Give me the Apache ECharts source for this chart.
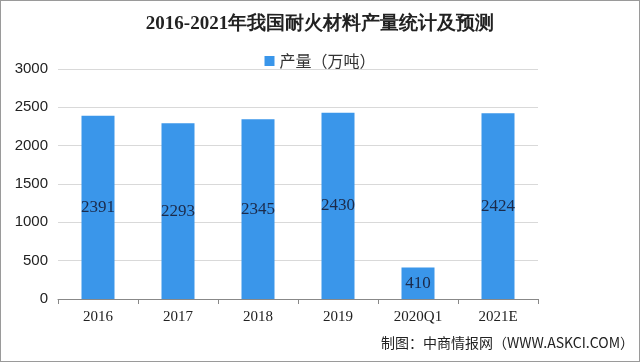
<!DOCTYPE html>
<html><head><meta charset="utf-8">
<script src="https://cdn.jsdelivr.net/npm/echarts@6/dist/echarts.min.js"></script>
<style>
html,body{margin:0;padding:0;background:#fff;}
#c{width:638px;height:360px;border:1px solid #9a9a9a;}
</style></head>
<body><div id="c"></div>
<script>
const title = '2016-2021年我国耐火材料产量统计及预测';
const seriesName = '产量（万吨）';
const categories = ['2016','2017','2018','2019','2020Q1','2021E'];
const values = [2391, 2293, 2345, 2430, 410, 2424];
const yTicks = [0, 500, 1000, 1500, 2000, 2500, 3000];
const source = '制图：中商情报网（WWW.ASKCI.COM）';

const chart = echarts.init(document.getElementById('c'));
chart.setOption({
  animation: false,
  title: {
    text: title, left: 'center', top: 9,
    textStyle: {fontFamily: 'Liberation Serif, serif', fontSize: 19, fontWeight: 'bold', color: '#222'}
  },
  legend: {
    data: [seriesName], top: 47, left: 'center',
    itemWidth: 10, itemHeight: 10, itemGap: 3, icon: 'rect',
    textStyle: {fontFamily: 'Noto Sans CJK SC, sans-serif', fontSize: 16, color: '#333'}
  },
  grid: {left: 57, right: 101, top: 68, bottom: 62},
  xAxis: {
    type: 'category', data: categories,
    axisLine: {lineStyle: {color: '#888'}},
    axisTick: {show: true, length: 5, lineStyle: {color: '#888'}},
    axisLabel: {fontFamily: 'Liberation Serif, serif', fontSize: 15, color: '#222', margin: 11}
  },
  yAxis: {
    type: 'value', min: yTicks[0], max: yTicks[yTicks.length-1], interval: 500,
    axisLine: {show: false}, axisTick: {show: false},
    splitLine: {lineStyle: {color: '#d9d9d9'}},
    axisLabel: {fontFamily: 'Liberation Sans, Arial, sans-serif', fontSize: 15, color: '#222', margin: 10,
      formatter: v => String(v)}
  },
  series: [{
    name: seriesName, type: 'bar', data: values, barWidth: 33,
    itemStyle: {color: '#3A96EA'},
    label: {show: true, position: 'inside', fontFamily: 'Liberation Serif, serif', fontSize: 17, color: '#1b2a4a'}
  }],
  graphic: [{
    type: 'text', right: 5, top: 335,
    style: {text: source, fontFamily: 'Noto Sans CJK SC, sans-serif', fontSize: 14, fill: '#222'}
  }]
});
</script></body></html>
